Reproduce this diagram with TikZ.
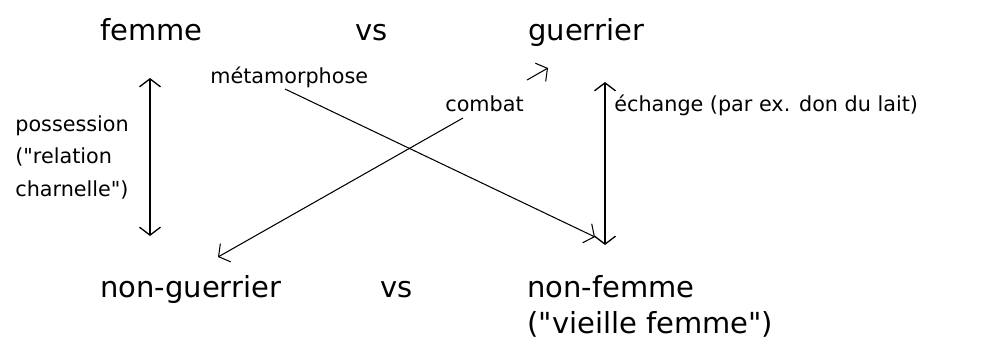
\documentclass[tikz,border=0pt]{standalone}
\usepackage{fontspec}
\setmainfont{DejaVu Sans}[Ligatures=TeXOff]
\usetikzlibrary{arrows.meta,positioning}

\begin{document}
\begin{tikzpicture}[x=0.02cm,y=-0.02cm,
    >={Straight Barb[length=0.16cm,width=0.42cm]},
    term/.style={inner sep=0pt,anchor=base west,font=\fontsize{16.5}{20}\selectfont},
    lab/.style={inner sep=0pt,anchor=base west,font=\fontsize{11.8}{18.7}\selectfont}]
    \useasboundingbox (0,0) rectangle (1003,345);

    \node[term] (femme) at (100,40) {femme};
    \node[term] (vs1) at (355,40) {vs};
    \node[term] (guerrier) at (528,40) {guerrier};

    \node[term] (nonguerrier) at (100,297) {non-guerrier};
    \node[term] (vs2) at (380,297) {vs};
    \node[term] (nonfemme) at (527,297) {non-femme};
    \node[term] (vieille) at (527,333) {("vieille femme")};

    \node[lab] (metamorphose) at (210,83) {métamorphose};
    \node[lab] (combat) at (445,111) {combat};
    \node[lab] (echange) at (614,111) {échange (par ex. don du lait)};
    \node[lab,align=left,anchor=north west] (possession) at (15,115) {possession\\("relation\\charnelle")};

    \coordinate (posTop) at (150,78);
    \coordinate (posBot) at (150,236);
    \coordinate (echTop) at (605,82);
    \coordinate (echBot) at (605,245);
    \coordinate (metFrom) at (285,89);
    \coordinate (metTip) at (595,237);
    \coordinate (cbFromA) at (527,80);
    \coordinate (cbTop) at (548,68);
    \coordinate (cbFromB) at (463,118);
    \coordinate (cbBot) at (218,257);

    \draw[<->,line width=0.75pt] (posTop) -- (posBot);
    \draw[<->,line width=0.75pt] (echTop) -- (echBot);
    \draw[->,line width=0.6pt] (metFrom) -- (metTip);
    \draw[->,line width=0.6pt] (cbFromA) -- (cbTop);
    \draw[->,line width=0.6pt] (cbFromB) -- (cbBot);
\end{tikzpicture}
\end{document}
